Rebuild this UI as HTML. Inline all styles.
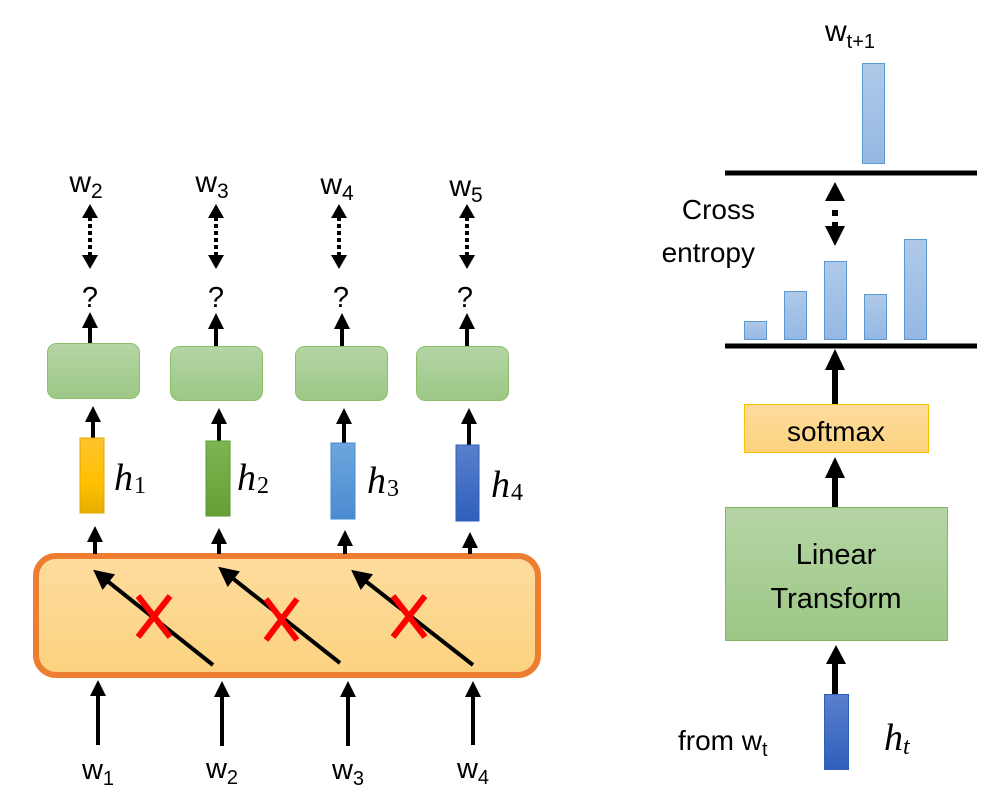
<!DOCTYPE html>
<html><head><meta charset="utf-8"><style>
html,body{margin:0;padding:0;background:#fff}
svg{display:block}
text{font-family:"Liberation Sans","DejaVu Sans",sans-serif;fill:#000}
.m{font-family:"Liberation Serif",serif;font-style:italic}
</style></head><body>
<svg width="1001" height="801" viewBox="0 0 1001 801" xmlns="http://www.w3.org/2000/svg">
<defs>
<linearGradient id="gg" x1="0" y1="0" x2="0" y2="1"><stop offset="0" stop-color="#b5d5a5"/><stop offset="1" stop-color="#9cc785"/></linearGradient>
<linearGradient id="og" x1="0" y1="0" x2="0" y2="1"><stop offset="0" stop-color="#fddc9e"/><stop offset="1" stop-color="#fcd27f"/></linearGradient>
<linearGradient id="bg" x1="0" y1="0" x2="0" y2="1"><stop offset="0" stop-color="#afc9e8"/><stop offset="1" stop-color="#95b8e3"/></linearGradient>
<linearGradient id="y" x1="0" y1="0" x2="0" y2="1"><stop offset="0" stop-color="#ffc32e"/><stop offset="0.6" stop-color="#ffc000"/><stop offset="1" stop-color="#e6ae00"/></linearGradient>
<linearGradient id="g2" x1="0" y1="0" x2="0" y2="1"><stop offset="0" stop-color="#7db551"/><stop offset="1" stop-color="#64a035"/></linearGradient>
<linearGradient id="b3" x1="0" y1="0" x2="0" y2="1"><stop offset="0" stop-color="#6ea6de"/><stop offset="1" stop-color="#4a8bcf"/></linearGradient>
<linearGradient id="b4" x1="0" y1="0" x2="0" y2="1"><stop offset="0" stop-color="#5a80cc"/><stop offset="1" stop-color="#2f5fbb"/></linearGradient>
<marker id="a" markerWidth="4" markerHeight="4" refX="2" refY="2" orient="auto" markerUnits="strokeWidth"><path d="M0,0 L4,2 L0,4 z" fill="#000"/></marker>
<marker id="as" markerWidth="5" markerHeight="5" refX="2.5" refY="2.5" orient="auto" markerUnits="strokeWidth"><path d="M0,0 L5,2.5 L0,5 z" fill="#000"/></marker>
</defs>

<rect x="36" y="556" width="502" height="119" rx="20" fill="url(#og)" stroke="#ed7d31" stroke-width="6"/>
<g stroke="#000" stroke-width="4" fill="none">
<line x1="213" y1="665" x2="101" y2="576" marker-end="url(#as)"/>
<line x1="340" y1="663" x2="226" y2="573" marker-end="url(#as)"/>
<line x1="473" y1="665" x2="359" y2="576" marker-end="url(#as)"/>
</g>
<g stroke="#f00" stroke-width="6">
<line x1="138" y1="596" x2="170" y2="637"/><line x1="170" y1="596" x2="138" y2="637"/>
<line x1="266" y1="599" x2="297" y2="640"/><line x1="297" y1="599" x2="266" y2="640"/>
<line x1="393" y1="596" x2="425" y2="637"/><line x1="425" y1="596" x2="393" y2="637"/>
</g>

<g stroke="#000" stroke-width="4" fill="none" marker-end="url(#a)">
<line x1="98" y1="745" x2="98" y2="688"/>
<line x1="222" y1="746" x2="222" y2="689"/>
<line x1="348" y1="746" x2="348" y2="689"/>
<line x1="473" y1="745" x2="473" y2="689"/>
<line x1="95" y1="554" x2="95" y2="534"/>
<line x1="219" y1="554" x2="219" y2="536"/>
<line x1="345" y1="554" x2="345" y2="538"/>
<line x1="470" y1="554" x2="470" y2="540"/>
<line x1="93" y1="438" x2="93" y2="414"/>
<line x1="219" y1="441" x2="219" y2="416"/>
<line x1="344" y1="443" x2="344" y2="416"/>
<line x1="469" y1="445" x2="469" y2="416"/>
<line x1="90" y1="343" x2="90" y2="320"/>
<line x1="216" y1="346" x2="216" y2="321"/>
<line x1="342" y1="346" x2="342" y2="321"/>
<line x1="467" y1="346" x2="467" y2="321"/>
</g>
<g font-size="29" text-anchor="middle">
<text x="98" y="779">w<tspan font-size="20" dy="6">1</tspan></text>
<text x="222" y="778">w<tspan font-size="20" dy="6">2</tspan></text>
<text x="348" y="779">w<tspan font-size="20" dy="6">3</tspan></text>
<text x="473" y="778">w<tspan font-size="20" dy="6">4</tspan></text>
</g>

<rect x="80" y="438" width="24" height="75" fill="url(#y)" stroke="#e0a800"/>
<rect x="206" y="441" width="24" height="75" fill="url(#g2)" stroke="#5a9a30"/>
<rect x="331" y="443" width="24" height="76" fill="url(#b3)" stroke="#4a8bcf"/>
<rect x="456" y="445" width="23" height="76" fill="url(#b4)" stroke="#2f5fbb"/>
<g class="m" font-size="38">
<text x="114" y="490" class="m">h<tspan font-size="24" font-style="normal" dx="1" dy="3">1</tspan></text>
<text x="237" y="490" class="m">h<tspan font-size="24" font-style="normal" dx="1" dy="3">2</tspan></text>
<text x="367" y="493" class="m">h<tspan font-size="24" font-style="normal" dx="1" dy="3">3</tspan></text>
<text x="491" y="497" class="m">h<tspan font-size="24" font-style="normal" dx="1" dy="3">4</tspan></text>
</g>

<rect x="47.5" y="343.5" width="92" height="55" rx="9" fill="url(#gg)" stroke="#8ac06a"/>
<rect x="170.5" y="346.5" width="92" height="54" rx="9" fill="url(#gg)" stroke="#8ac06a"/>
<rect x="295.5" y="346.5" width="92" height="54" rx="9" fill="url(#gg)" stroke="#8ac06a"/>
<rect x="416.5" y="346.5" width="92" height="54" rx="9" fill="url(#gg)" stroke="#8ac06a"/>

<g font-size="29" text-anchor="middle">
<text x="90" y="307">?</text><text x="216" y="307">?</text><text x="341" y="307">?</text><text x="465" y="307">?</text>
</g>
<g stroke="#000" stroke-width="4" fill="none" stroke-dasharray="4,3">
<line x1="90" y1="217" x2="90" y2="255"/>
<line x1="216" y1="217" x2="216" y2="255"/>
<line x1="339" y1="217" x2="339" y2="255"/>
<line x1="467" y1="217" x2="467" y2="255"/>
</g>
<g fill="#000">
<path d="M82,218 L90,204 L98,218z"/><path d="M82,255 L90,269 L98,255z"/>
<path d="M208,218 L216,204 L224,218z"/><path d="M208,255 L216,269 L224,255z"/>
<path d="M331,218 L339,204 L347,218z"/><path d="M331,255 L339,269 L347,255z"/>
<path d="M459,218 L467,204 L475,218z"/><path d="M459,255 L467,269 L475,255z"/>
</g>
<g font-size="30" text-anchor="middle">
<text x="86" y="192">w<tspan font-size="21" dy="6">2</tspan></text>
<text x="212" y="192">w<tspan font-size="21" dy="6">3</tspan></text>
<text x="337" y="194">w<tspan font-size="21" dy="6">4</tspan></text>
<text x="466" y="196">w<tspan font-size="21" dy="6">5</tspan></text>
</g>

<text x="850" y="41" font-size="30" text-anchor="middle">w<tspan font-size="20" dy="7">t+1</tspan></text>
<rect x="862.5" y="63.5" width="22" height="100" fill="url(#bg)" stroke="#5b9bd5"/>
<line x1="725" y1="173" x2="977" y2="173" stroke="#000" stroke-width="5"/>
<line x1="725" y1="346" x2="977" y2="346" stroke="#000" stroke-width="5"/>
<rect x="744.5" y="321.5" width="22" height="18" fill="url(#bg)" stroke="#5b9bd5"/>
<rect x="784.5" y="291.5" width="22" height="48" fill="url(#bg)" stroke="#5b9bd5"/>
<rect x="824.5" y="261.5" width="22" height="78" fill="url(#bg)" stroke="#5b9bd5"/>
<rect x="864.5" y="294.5" width="22" height="45" fill="url(#bg)" stroke="#5b9bd5"/>
<rect x="904.5" y="239.5" width="22" height="100" fill="url(#bg)" stroke="#5b9bd5"/>
<path d="M825,201 L835,182 L845,201z" fill="#000"/>
<rect x="832" y="210" width="6" height="6" fill="#000"/>
<rect x="832" y="222" width="6" height="4" fill="#000"/>
<path d="M825,226 L835,246 L845,226z" fill="#000"/>
<text x="755" y="219" font-size="28" text-anchor="end">Cross</text>
<text x="755" y="262" font-size="28" text-anchor="end">entropy</text>

<g stroke="#000" stroke-width="6" fill="none">
<line x1="835" y1="404" x2="835" y2="366"/>
<line x1="835" y1="507" x2="835" y2="474"/>
<line x1="835" y1="694" x2="835" y2="662"/>
</g>
<g fill="#000">
<path d="M825,370 L835,349 L845,370z"/>
<path d="M825,478 L835,457 L845,478z"/>
<path d="M826,664 L836,645 L846,664z"/>
</g>
<rect x="744.5" y="404.5" width="184" height="48" fill="url(#og)" stroke="#ffc000"/>
<text x="836" y="441" font-size="28" text-anchor="middle">softmax</text>
<rect x="725.5" y="507.5" width="222" height="133" fill="url(#gg)" stroke="#82b366"/>
<text x="836" y="564" font-size="29" text-anchor="middle">Linear</text>
<text x="836" y="608" font-size="29" text-anchor="middle">Transform</text>
<rect x="824.5" y="694.5" width="24" height="75" fill="url(#b4)" stroke="#2f5fbb"/>
<text x="678" y="750" font-size="28">from w<tspan font-size="20" dy="6">t</tspan></text>
<text x="884" y="750" font-size="38" class="m">h<tspan font-size="24" dy="4">t</tspan></text>
</svg>
</body></html>
